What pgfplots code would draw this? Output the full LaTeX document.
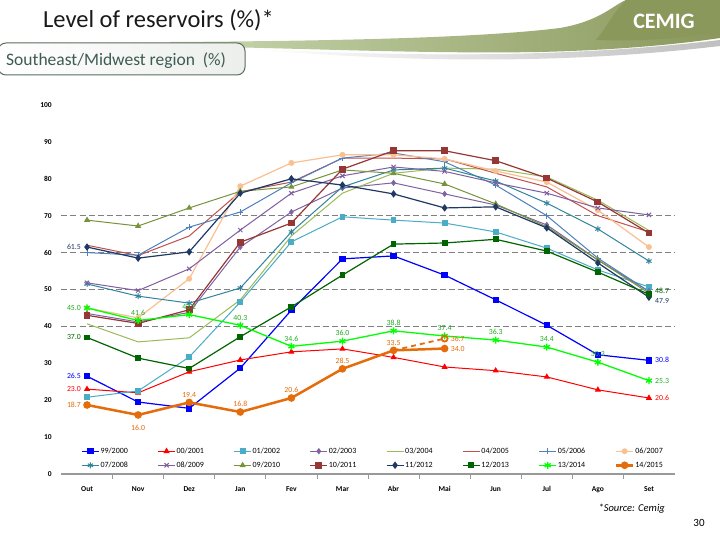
\documentclass[border=0pt]{standalone}
\usepackage{fontspec}
\setmainfont{Carlito}
\usepackage{pgfplots}
\pgfplotsset{compat=1.18}
\usepackage{pgfplotstable}

\definecolor{c99}{HTML}{0000FF}
\definecolor{c00}{HTML}{FF0000}
\definecolor{c01}{HTML}{4BACC6}
\definecolor{c02}{HTML}{8064A2}
\definecolor{c03}{HTML}{9BBB59}
\definecolor{c04}{HTML}{C0504D}
\definecolor{c05}{HTML}{4F81BD}
\definecolor{c06}{HTML}{FAC090}
\definecolor{c07}{HTML}{31859C}
\definecolor{c08}{HTML}{7F5FA0}
\definecolor{c09}{HTML}{77933C}
\definecolor{c10}{HTML}{953735}
\definecolor{c11}{HTML}{1F3864}
\definecolor{c12}{HTML}{006400}
\definecolor{c13}{HTML}{00FF00}
\definecolor{c14}{HTML}{E46C0A}
\definecolor{lab13}{HTML}{22AA22}
\definecolor{subtxt}{HTML}{3E5B53}
\definecolor{subbrd}{HTML}{5A6E5E}
\definecolor{bandleft}{HTML}{C9D8B0}
\definecolor{bandmid}{HTML}{5C9A80}
\definecolor{bandright}{HTML}{8A985C}

\newcommand{\lblf}{\fontsize{7.8}{8.5}\selectfont}

\pgfplotstableread{
x  y99  y00  y01  y02  y03  y04  y05  y06  y07  y08  y09  y10  y11  y12  y13
0  26.5 23.0 20.8 43.5 40.7 62.0 60.0 45.0 51.5 51.8 68.8 43.0 61.5 37.0 45.0
1  19.5 22.0 22.5 41.2 35.8 59.2 59.3 42.3 48.2 49.7 67.2 40.8 58.5 31.4 41.6
2  17.8 27.7 31.7 43.8 36.9 64.5 66.9 52.9 46.3 55.6 72.1 44.5 60.2 28.6 43.2
3  28.7 30.9 46.6 61.5 47.2 76.5 71.0 78.0 50.4 66.1 76.6 62.8 76.1 37.2 40.3
4  44.4 33.1 62.9 71.0 64.5 79.1 78.9 84.3 65.6 76.1 77.8 68.0 80.0 45.3 34.6
5  58.3 33.9 69.7 77.5 76.1 85.6 85.6 86.5 77.8 80.8 82.4 82.6 78.3 53.9 36.0
6  59.1 31.6 68.8 78.9 81.5 85.6 87.0 86.5 82.4 83.2 81.5 87.6 75.9 62.3 38.8
7  53.9 29.0 68.0 75.9 82.9 85.4 84.6 85.4 82.9 82.0 78.6 87.6 72.1 62.6 37.4
8  47.2 28.0 65.6 72.9 82.6 81.5 78.3 82.1 79.4 78.9 73.2 84.9 72.4 63.6 36.3
9  40.3 26.3 61.2 67.5 80.5 77.8 70.0 79.1 73.4 76.1 67.0 80.2 66.7 60.4 34.4
10 32.3 22.8 55.3 58.0 74.2 70.0 58.5 71.5 66.4 72.1 58.0 73.7 57.2 54.7 30.3
11 30.8 20.6 50.7 49.5 66.0 65.6 49.5 61.5 57.7 70.2 49.0 65.3 47.9 48.7 25.3
}\reservoirs

\pgfplotstableread{
x  y14
0  18.7
1  16.0
2  19.4
3  16.8
4  20.6
5  28.5
6  33.5
7  34.0
}\reservoirsB

\pgfplotsset{
  lab/.style={forget plot, draw=none, mark=none, nodes near coords,
    point meta=explicit symbolic,
    every node near coord/.append style={font=\lblf, text=#1, inner sep=1pt}},
  labL/.style={lab=#1, every node near coord/.append style={anchor=east, xshift=-5pt}},
  labR/.style={lab=#1, every node near coord/.append style={anchor=west, xshift=5pt}},
  labA/.style={lab=#1, every node near coord/.append style={anchor=south, yshift=4pt}},
  labB/.style={lab=#1, every node near coord/.append style={anchor=north, yshift=-9pt}},
}

\begin{document}
\begin{tikzpicture}[x=1pt,y=1pt]
\path[use as bounding box, fill=white] (0,0) rectangle (720,540);

% ---------- header (tikz coordinates, y upward: image y -> 540-y) ----------
% shadow under swoosh
\shade[left color=white, right color=gray!50]
   (250,491) .. controls (400,484) and (560,481) .. (720,500)
   -- (720,494) .. controls (560,475) and (400,478) .. (250,491) -- cycle;
% swoosh band
\shade[left color=bandleft, middle color=bandmid, right color=bandright]
  (170,498) .. controls (330,499) and (480,502) .. (560,512)
  .. controls (600,519) and (612,534) .. (626,540) -- (720,540) -- (720,502)
  .. controls (680,496) and (620,490) .. (540,488)
  .. controls (420,486) and (300,492) .. (170,494) -- cycle;
% logo area
\fill[bandright] (626,540) .. controls (614,528) and (606,512) .. (596,500)
   .. controls (650,498) and (690,503) .. (720,508) -- (720,540) -- cycle;
\node[text=white, font=\bfseries\fontsize{22}{24}\selectfont, inner sep=0pt] at (664,519) {CEMIG};
% title
\node[anchor=base west, inner sep=0pt, font=\fontsize{24.5}{28}\selectfont, text=black!90] at (43,512) {Level of reservoirs (\%)*};
% subtitle box
\shade[rounded corners=8pt, left color=white, right color=green!8!gray!14, draw=subbrd, line width=1pt]
  (-2,497) rectangle (245,465);
\node[anchor=base west, inner sep=0pt, font=\fontsize{17.5}{20}\selectfont, text=subtxt] at (6,474) {Southeast/Midwest region\ \ (\%)};
% footer
\node[anchor=base east, inner sep=0pt, font=\itshape\fontsize{10.5}{12}\selectfont] at (665,28) {*Source: Cemig};
\node[anchor=base, inner sep=0pt, font=\fontsize{11}{12}\selectfont] at (699,13) {30};

\begin{axis}[
  at={(61.5pt,66pt)}, anchor=south west,
  scale only axis, width=613pt, height=369pt,
  xmin=-0.5, xmax=11.5, ymin=0, ymax=100,
  clip=false,
  axis x line*=bottom, axis y line*=left,
  y axis line style={draw=none},
  x axis line style={draw=gray!80, line width=1.5pt},
  xtick={0,...,11},
  xticklabels={Out,Nov,Dez,Jan,Fev,Mar,Abr,Mai,Jun,Jul,Ago,Set},
  major x tick style={draw=none},
  minor x tick num=1,
  tick align=outside,
  minor tick length=5pt,
  minor x tick style={draw=gray!80, line width=0.8pt},
  ytick={0,10,...,100},
  major y tick style={draw=none},
  extra y ticks={40,50,60,70},
  extra y tick labels={},
  extra y tick style={grid=major, major tick length=0pt,
     major grid style={dash pattern=on 6pt off 3pt, draw=gray, line width=0.8pt}},
  /pgf/number format/assume math mode=true,
  yticklabel style={font=\bfseries\fontsize{7.5}{8}\selectfont, xshift=-2pt},
  xticklabel style={font=\bfseries\fontsize{7.5}{8}\selectfont, yshift=-3pt, text height=1.5ex, text depth=0.3ex},
  legend columns=8,
  legend cell align=left,
  legend style={at={(axis description cs:0.027,0.08)}, anchor=north west,
     draw=none, fill=none, font=\fontsize{8}{9}\selectfont,
     row sep=5pt, nodes={text width=56pt, inner sep=1pt}},
]
\addplot[c99, line width=1.2pt, mark=square*, mark size=2.6pt, mark options={solid}] table[x=x,y=y99]{\reservoirs};
\addlegendentry{99/2000}
\addplot[c00, line width=1pt, mark=triangle*, mark size=2.6pt, mark options={solid}] table[x=x,y=y00]{\reservoirs};
\addlegendentry{00/2001}
\addplot[c01, line width=1pt, mark=square*, mark size=2.4pt, mark options={solid}] table[x=x,y=y01]{\reservoirs};
\addlegendentry{01/2002}
\addplot[c02, line width=1pt, mark=diamond*, mark size=2.4pt, mark options={solid}] table[x=x,y=y02]{\reservoirs};
\addlegendentry{02/2003}
\addplot[c03, line width=1pt, mark=none] table[x=x,y=y03]{\reservoirs};
\addlegendentry{03/2004}
\addplot[c04, line width=1pt, mark=none] table[x=x,y=y04]{\reservoirs};
\addlegendentry{04/2005}
\addplot[c05, line width=1pt, mark=+, mark size=3pt, mark options={solid}] table[x=x,y=y05]{\reservoirs};
\addlegendentry{05/2006}
\addplot[c06, line width=1.2pt, mark=*, mark size=2.3pt, mark options={solid}] table[x=x,y=y06]{\reservoirs};
\addlegendentry{06/2007}
\addplot[c07, line width=1pt, mark=asterisk, mark size=3pt, mark options={solid}] table[x=x,y=y07]{\reservoirs};
\addlegendentry{07/2008}
\addplot[c08, line width=1pt, mark=x, mark size=3pt, mark options={solid}] table[x=x,y=y08]{\reservoirs};
\addlegendentry{08/2009}
\addplot[c09, line width=1pt, mark=triangle*, mark size=2.6pt, mark options={solid}] table[x=x,y=y09]{\reservoirs};
\addlegendentry{09/2010}
\addplot[c10, line width=1.2pt, mark=square*, mark size=2.8pt, mark options={solid}] table[x=x,y=y10]{\reservoirs};
\addlegendentry{10/2011}
\addplot[c11, line width=1.2pt, mark=diamond*, mark size=2.8pt, mark options={solid}] table[x=x,y=y11]{\reservoirs};
\addlegendentry{11/2012}
\addplot[c12, line width=1.2pt, mark=square*, mark size=2.3pt, mark options={solid}] table[x=x,y=y12]{\reservoirs};
\addlegendentry{12/2013}
\addplot[c13, line width=1.3pt, mark=asterisk, mark size=3.5pt, mark options={solid, line width=1.3pt}] table[x=x,y=y13]{\reservoirs};
\addlegendentry{13/2014}
\addplot[c14, line width=2.5pt, mark=*, mark size=2.5pt, mark options={solid}] table[x=x,y=y14]{\reservoirsB};
\addlegendentry{14/2015}
% projection
\addplot[forget plot, c14, line width=1.8pt, dash pattern=on 5pt off 4pt, mark=o, mark size=3pt,
   mark indices={2}, mark options={solid, line width=1.8pt, fill=white}] coordinates {(6,33.5) (7,36.7)};

% ---- data labels ----
\addplot[labL=c11] coordinates {(0,61.5)[61.5]};
\addplot[labR=c11, every node near coord/.append style={yshift=-4pt}] coordinates {(11,47.9)[47.9]};
\addplot[labL=lab13] coordinates {(0,45.0)[45.0]};
\addplot[labR=lab13] coordinates {(11,25.3)[25.3]};
\addplot[labA=lab13] coordinates {(1,41.6)[41.6] (2,43.2)[43.2] (3,40.3)[40.3] (4,34.6)[34.6] (5,36.0)[36.0] (6,38.8)[38.8] (7,37.4)[37.4] (8,36.3)[36.3] (9,34.4)[34.4] (10,30.3)[30.3]};
\addplot[labL=c12] coordinates {(0,37.0)[37.0]};
\addplot[labR=c12, every node near coord/.append style={yshift=3pt}] coordinates {(11,48.7)[48.7]};
\addplot[labL=c99] coordinates {(0,26.5)[26.5]};
\addplot[labR=c99] coordinates {(11,30.8)[30.8]};
\addplot[labL=c00] coordinates {(0,23.0)[23.0]};
\addplot[labR=c00] coordinates {(11,20.6)[20.6]};
\addplot[labL=c14] coordinates {(0,18.7)[18.7]};
\addplot[labB=c14] coordinates {(1,16.0)[16.0]};
\addplot[labA=c14] coordinates {(2,19.4)[19.4] (3,16.8)[16.8] (4,20.6)[20.6] (5,28.5)[28.5] (6,33.5)[33.5]};
\addplot[labR=c14] coordinates {(7,34.0)[34.0] (7,36.7)[36.7]};
\end{axis}
\end{tikzpicture}
\end{document}
